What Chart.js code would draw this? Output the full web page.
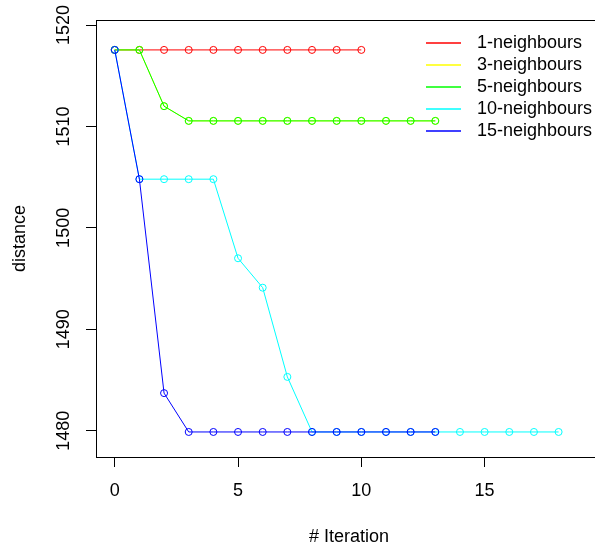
<!DOCTYPE html>
<html>
<head>
<meta charset="utf-8">
<script src="https://cdn.jsdelivr.net/npm/chart.js@4"></script>
<style>
    html, body { margin: 0; padding: 0; overflow: hidden; background: #fff; }
    #wrap { width: 607px; height: 548px; }
</style>
</head>
<body>
<div id="wrap"><canvas id="chartDist"></canvas></div>
<script>
// ── Dati ──────────────────────────────────────
const seriesNames  = ['1-neighbours', '3-neighbours', '5-neighbours', '10-neighbours', '15-neighbours'];
const seriesColors = ['#ff0000', '#ffff00', '#00ff00', '#00ffff', '#0000ff'];

const dist1  = [1517.55, 1517.55, 1517.55, 1517.55, 1517.55, 1517.55, 1517.55, 1517.55, 1517.55, 1517.55, 1517.55];
const dist3  = [1517.55, 1517.55, 1512.0, 1510.55, 1510.55, 1510.55, 1510.55, 1510.55, 1510.55, 1510.55, 1510.55, 1510.55, 1510.55, 1510.55];
const dist5  = [1517.55, 1517.55, 1512.0, 1510.55, 1510.55, 1510.55, 1510.55, 1510.55, 1510.55, 1510.55, 1510.55, 1510.55, 1510.55, 1510.55];
const dist10 = [1517.55, 1504.8, 1504.8, 1504.8, 1504.8, 1497.0, 1494.1, 1485.3, 1479.87, 1479.87, 1479.87, 1479.87, 1479.87, 1479.87, 1479.87, 1479.87, 1479.87, 1479.87, 1479.87];
const dist15 = [1517.55, 1504.8, 1483.7, 1479.87, 1479.87, 1479.87, 1479.87, 1479.87, 1479.87, 1479.87, 1479.87, 1479.87, 1479.87, 1479.87];

const allSeries = [dist1, dist3, dist5, dist10, dist15];

const xTicks = [0, 5, 10, 15];
const yTicks = [1480, 1490, 1500, 1510, 1520];
const xRange = [-0.76, 19.76];
const yRange = [1477.4, 1520.5];

const FONT = 'Liberation Sans, Arial, sans-serif';

// ── Cornice del grafico (box stile R) ─────────
const framePlugin = {
    id: 'frame',
    afterDraw(chart) {
        const { ctx, chartArea: a } = chart;
        ctx.save();
        ctx.strokeStyle = '#000';
        ctx.lineWidth = 1;
        ctx.strokeRect(a.left + 0.5, a.top + 0.5, a.right - a.left, a.bottom - a.top);
        ctx.restore();
    }
};

// ── Legenda senza bordo ───────────────────────
const legendPlugin = {
    id: 'rLegend',
    afterDraw(chart) {
        const ctx = chart.ctx;
        ctx.save();
        ctx.font = '18px ' + FONT;
        ctx.textBaseline = 'middle';
        ctx.textAlign = 'left';
        seriesNames.forEach((name, i) => {
            const y = 43 + i * 22;
            ctx.strokeStyle = seriesColors[i];
            ctx.lineWidth = 1.5;
            ctx.beginPath();
            ctx.moveTo(426, y);
            ctx.lineTo(461, y);
            ctx.stroke();
            ctx.fillStyle = '#000';
            ctx.fillText(name, 477, y);
        });
        ctx.restore();
    }
};

const datasets = allSeries.map((vals, i) => ({
    label: seriesNames[i],
    data: vals.map((v, k) => ({ x: k, y: v })),
    borderColor: seriesColors[i],
    pointBorderColor: seriesColors[i],
    backgroundColor: 'transparent',
    pointBackgroundColor: 'transparent',
    borderWidth: 1,
    pointRadius: 3.5,
    pointBorderWidth: 1,
    tension: 0,
    order: allSeries.length - i   // serie successive sopra, come in R
}));

new Chart(document.getElementById('chartDist'), {
    type: 'line',
    data: { datasets },
    options: {
        responsive: true,
        maintainAspectRatio: false,
        animation: false,
        devicePixelRatio: 1,
        layout: { padding: { top: 20, right: 5, left: 0, bottom: 0 } },
        plugins: { legend: { display: false }, tooltip: { enabled: false } },
        scales: {
            x: {
                type: 'linear',
                min: xRange[0], max: xRange[1],
                afterBuildTicks: s => { s.ticks = xTicks.map(v => ({ value: v })); },
                afterFit: s => { s.height = 91; },
                grid: { drawOnChartArea: false, drawTicks: true, tickLength: 10, color: '#000' },
                border: { display: false },
                ticks: { color: '#000', font: { family: FONT, size: 18 }, padding: 13, maxRotation: 0, callback: v => String(v) },
                title: { display: true, text: '# Iteration', color: '#000', font: { family: FONT, size: 18 }, padding: { top: 0, bottom: 0 } }
            },
            y: {
                min: yRange[0], max: yRange[1],
                afterBuildTicks: s => { s.ticks = yTicks.map(v => ({ value: v })); },
                afterFit: s => { s.width = 96; },
                grid: { drawOnChartArea: false, drawTicks: true, tickLength: 10, color: '#000' },
                border: { display: false },
                ticks: { color: '#000', font: { family: FONT, size: 18 }, padding: 2, minRotation: 90, maxRotation: 90, crossAlign: 'center', callback: v => String(v) },
                title: { display: true, text: 'distance', color: '#000', font: { family: FONT, size: 18 }, padding: { top: 9, bottom: 0 } }
            }
        }
    },
    plugins: [framePlugin, legendPlugin]
});
</script>
</body>
</html>
